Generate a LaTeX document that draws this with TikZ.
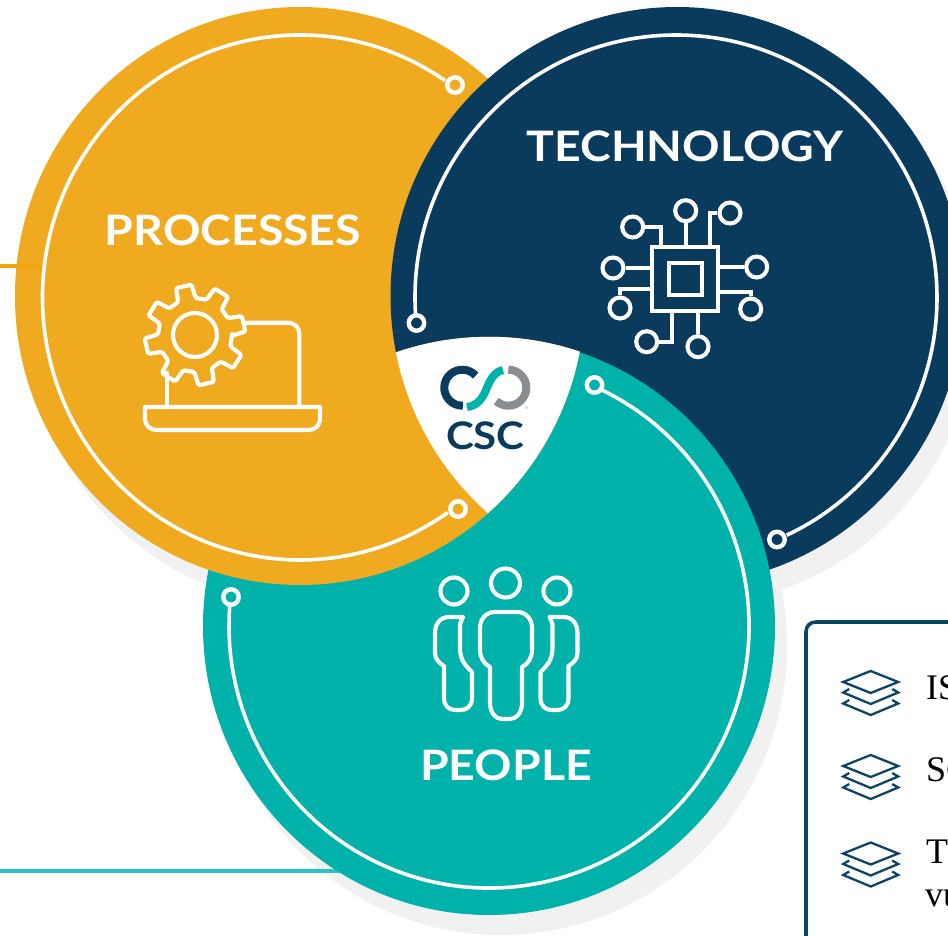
\documentclass[tikz,border=0pt]{standalone}
\usepackage{fontspec}
\newfontfamily\headfont[FakeStretch=1.105]{Lato}
\setmainfont{Liberation Serif}
\definecolor{orangeC}{HTML}{F0AA20}
\definecolor{orangeL}{HTML}{EFA60F}
\definecolor{navyC}{HTML}{0B3B5C}
\definecolor{tealC}{HTML}{00B2A9}
\definecolor{tealL}{HTML}{2CC3C3}
\definecolor{shadowC}{HTML}{F1F1F2}
\definecolor{logoG}{HTML}{8A8D91}
\definecolor{boxC}{HTML}{0D4365}
\tikzset{
  ringline/.style={draw=white,line width=3.6pt},
  ringdot/.style={circle,draw=white,line width=4.4pt,minimum size=15.5pt,inner sep=0pt},
  icon/.style={draw=white,line width=4.1pt,line join=round,line cap=round},
  chipdot/.style={circle,draw=white,line width=4.1pt,minimum size=21pt,inner sep=0pt},
  headtext/.style={text=white,font=\headfont\bfseries\fontsize{42}{42}\selectfont,inner sep=0pt},
  bodytext/.style={text=black,font=\fontsize{36}{36}\selectfont,inner sep=0pt,anchor=base west},
  layer/.style={draw=boxC,line width=2.3pt,line join=miter},
}
\newcommand{\orangeshape}{(300,-296) ellipse [x radius=285,y radius=289]}
\newcommand{\navyshape}{(677,-296) ellipse [x radius=286.5,y radius=289]}
\newcommand{\tealshape}{(489,-626.25) ellipse [x radius=286,y radius=288.75]}
\newcommand{\tealwide}{(489,-626.25) ellipse [x radius=286.7,y radius=289.45]}
\newcommand{\layersicon}[2]{%
  \begin{scope}[shift={(#1,#2)}]
    \draw[layer] (-27.5,0) -- (0,11) -- (27.5,0) -- (0,-11) -- cycle;
    \draw[layer] (-21.5,-7) -- (-27.5,-10.5) -- (0,-22) -- (27.5,-10.5) -- (21.5,-7);
    \draw[layer] (-21.5,-18) -- (-27.5,-21.5) -- (0,-33) -- (27.5,-21.5) -- (21.5,-18);
  \end{scope}}
\newcommand{\sideperson}{%
  (463,-617) -- (449,-617) .. controls (440,-617) and (435,-624) .. (435,-633)
  -- (435,-653) .. controls (435,-659) and (439,-663) .. (444,-666)
  -- (444,-698) .. controls (444,-706) and (449,-710) .. (455,-710)
  -- (461,-710) .. controls (467,-710) and (472,-706) .. (472,-698)
  -- (472,-672) .. controls (465,-665) and (460,-660) .. (460,-648)
  -- (460,-624) -- cycle}
\begin{document}
\begin{tikzpicture}[x=1pt,y=1pt]
\useasboundingbox (0,0) rectangle (948,-936);
\clip (0,0) rectangle (948,-936);
% shadows
\fill[shadowC,shift={(12,-20)}] \orangeshape;
\fill[shadowC,shift={(12,-20)}] \navyshape;
\fill[shadowC,shift={(12,-20)}] \tealshape;
% side rules
\coordinate (ruleA) at (0,-266);
\coordinate (ruleAend) at (41,-266);
\coordinate (ruleB) at (0,-871);
\coordinate (ruleBend) at (360,-871);
\draw[tealL,line width=3.6pt] (ruleB) -- (ruleBend);
% discs with cyclic overlap
\fill[orangeC] \orangeshape;
\fill[navyC] \navyshape;
\fill[tealC] \tealshape;
\begin{scope}
  \clip \tealwide;
  \fill[orangeC] \orangeshape;
\end{scope}
\begin{scope}
  \clip \tealwide;
  \clip \orangeshape;
  \fill[white] \navyshape;
\end{scope}
\draw[orangeL,line width=3.6pt] (ruleA) -- (ruleAend);
% rings
\draw[ringline] (300,-297.5) ++(55.7:257.5 and 262.5) arc[start angle=55.7,end angle=305,x radius=257.5,y radius=262.5];
\draw[ringline] (676,-297.5) ++(183.8:261 and 262.5) arc[start angle=183.8,end angle=-64.9,x radius=261,y radius=262.5];
\draw[ringline] (489,-626) ++(64.5:260 and 262) arc[start angle=64.5,end angle=-184.4,x radius=260,y radius=262];
\node[ringdot] (dotO1) at (455,-85) {};
\node[ringdot] (dotO2) at (458,-509) {};
\node[ringdot] (dotN1) at (416.5,-323) {};
\node[ringdot] (dotN2) at (777,-539.5) {};
\node[ringdot] (dotT1) at (594.5,-385) {};
\node[ringdot] (dotT2) at (231,-597) {};
% labels
\node[headtext] (processes) at (233,-230) {PROCESSES};
\node[headtext] (technology) at (685,-146) {TECHNOLOGY};
\node[headtext] (people) at (506,-765) {PEOPLE};
% gear + laptop
\draw[icon] (245,-322.7) -- (287,-322.7) .. controls (295,-322.7) and (299.3,-327) .. (299.3,-335) -- (299.3,-407);
\draw[icon] (166.7,-373) -- (166.7,-407);
\draw[icon] (145,-407) -- (320,-407) -- (320,-418) .. controls (320,-426) and (315,-430) .. (308,-430) -- (157,-430) .. controls (150,-430) and (145,-426) .. (145,-418) -- cycle;
\begin{scope}[shift={(195,-335)}]
  \draw[icon] (0,0) circle (22);
  \draw[icon,rounded corners=1.5pt] (-1:37)
    \foreach \a in {13,58,103,148,193,238,283,328}{
      -- ({\a-14}:37) -- ({\a-9}:50.5) -- ({\a+9}:50.5) -- ({\a+14}:37)
    } -- cycle;
\end{scope}
% chip
\draw[icon,line join=miter] (652,-247) rectangle (718,-311);
\draw[icon,line join=miter] (669,-263) rectangle (702,-295);
\node[chipdot] (c1) at (685.7,-210.7) {};
\node[chipdot] (c2) at (730,-213) {};
\node[chipdot] (c3) at (632.7,-227) {};
\node[chipdot] (c4) at (613,-268) {};
\node[chipdot] (c5) at (756.7,-267) {};
\node[chipdot] (c6) at (620,-308) {};
\node[chipdot] (c7) at (750.7,-309) {};
\node[chipdot] (c8) at (646.7,-341.7) {};
\node[chipdot] (c9) at (698,-346.7) {};
\draw[icon,line join=miter,line cap=butt] (c1) -- (685.7,-247);
\draw[icon,line join=miter,line cap=butt] (c2) -- (710,-213) -- (710,-247);
\draw[icon,line join=miter,line cap=butt] (c3) -- (660.7,-227) -- (660.7,-247);
\draw[icon,line cap=butt] (c4) -- (652,-268);
\draw[icon,line cap=butt] (c5) -- (718,-267);
\draw[icon,line join=miter,line cap=butt] (c6) -- (620,-289) -- (652,-289);
\draw[icon,line join=miter,line cap=butt] (c7) -- (750.7,-291.7) -- (718,-291.7);
\draw[icon,line join=miter,line cap=butt] (c8) -- (671.7,-341.7) -- (671.7,-311);
\draw[icon,line cap=butt] (c9) -- (698,-311);
% people
\node[chipdot,minimum size=29pt] (h1) at (505.5,-583) {};
\node[chipdot,minimum size=27pt] (h2) at (454,-591) {};
\node[chipdot,minimum size=27pt] (h3) at (557,-591) {};
\draw[icon] (495,-612) -- (517,-612) .. controls (526,-612) and (532,-619) .. (532,-628)
  -- (532,-650) .. controls (532,-658) and (528,-664) .. (522,-667)
  -- (522,-703) .. controls (522,-713) and (516,-719) .. (510,-719)
  -- (502,-719) .. controls (496,-719) and (490,-713) .. (490,-703)
  -- (490,-667) .. controls (484,-664) and (480,-658) .. (480,-650)
  -- (480,-628) .. controls (480,-619) and (486,-612) .. (495,-612) -- cycle;
\draw[icon] \sideperson;
\begin{scope}[xshift=1012.5pt,xscale=-1]
  \draw[icon] \sideperson;
\end{scope}
% logo
\draw[navyC,line width=8pt] (462.3,-387.7) ++(42:18) arc[start angle=42,end angle=272,radius=18];
\draw[logoG,line width=8pt] (508.3,-387.7) ++(90:18) arc[start angle=90,end angle=-132,radius=18];
\draw[tealC,line width=8pt] (503,-370) .. controls (494,-372) and (490,-380) .. (486,-390) .. controls (482,-400) and (476,-406) .. (467,-407);
\node[inner sep=0pt,text=logoG,font=\fontsize{4}{4}\selectfont] (reg) at (526.7,-408) {®};
\node[inner sep=0pt,text=navyC,font=\headfont\bfseries\fontsize{38}{38}\selectfont] (csc) at (485.3,-436) {CSC};
% box
\draw[boxC,line width=3.6pt] (806,-945) -- (806,-632) .. controls (806,-626) and (810,-622) .. (816,-622) -- (955,-622);
\layersicon{870.7}{-682}
\layersicon{870.7}{-766}
\layersicon{870.7}{-853.5}
\node[bodytext] (t1) at (926,-699) {IS};
\node[bodytext] (t2) at (926,-781.7) {SC};
\node[bodytext] (t3) at (926,-863) {T};
\node[bodytext] (t4) at (925,-906.7) {vu};
\end{tikzpicture}
\end{document}
